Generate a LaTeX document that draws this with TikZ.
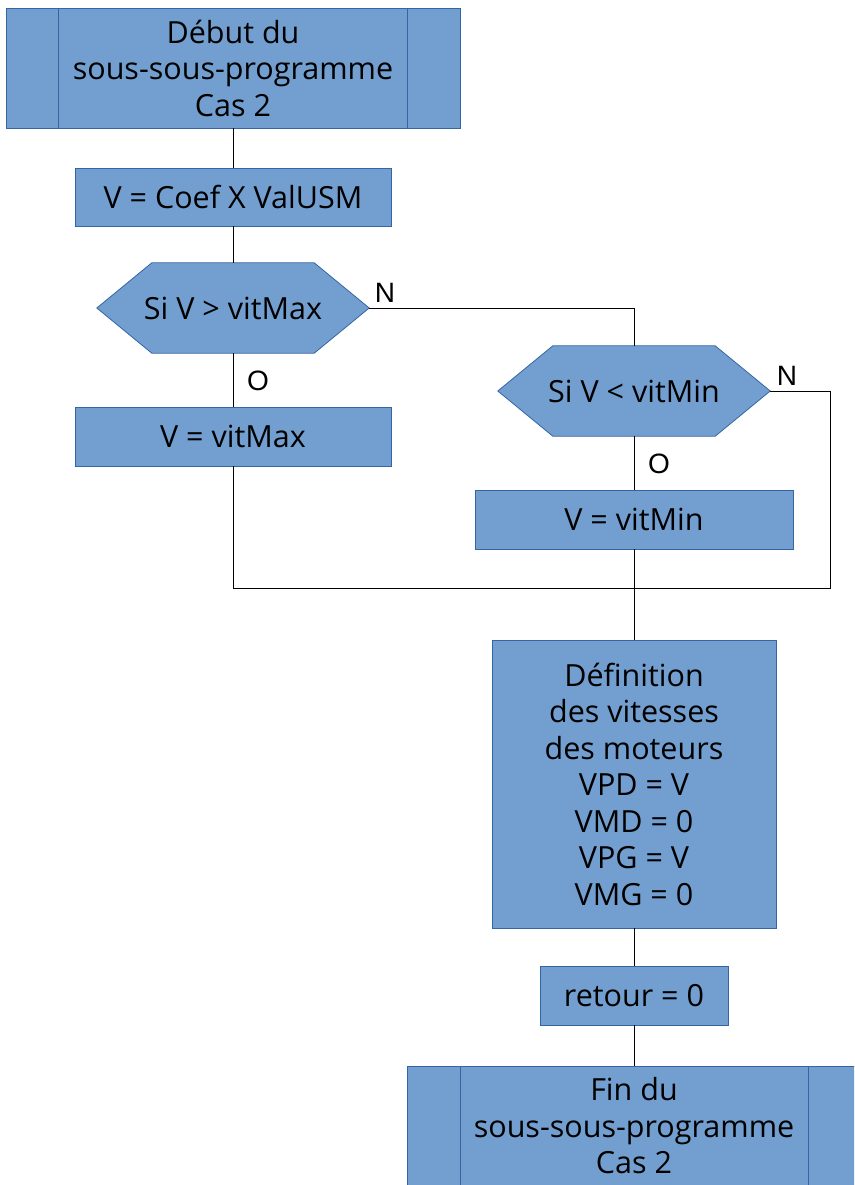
\documentclass[tikz,border=0pt]{standalone}
\usepackage{fontspec}
\setmainfont{Open Sans}
\newfontfamily\labelfont{Liberation Sans}
\usetikzlibrary{backgrounds}

\definecolor{boxfill}{HTML}{729FCF}
\definecolor{boxline}{HTML}{3465A4}

\tikzset{
  x=1pt, y=-1pt,
  txt/.style={font=\fontsize{30.5}{36.5}\selectfont, align=center, text=black},
  bloc/.style={txt, draw=boxline, fill=boxfill, line width=0.8pt, inner sep=0pt},
  prog/.style={bloc, minimum width=454pt, minimum height=120pt},
  test/.style={txt, inner sep=0pt, minimum width=272pt, minimum height=90pt},
  link/.style={draw=black, line width=0.9pt},
  rep/.style={font=\labelfont\fontsize{28}{28}\selectfont}
}

\begin{document}
\begin{tikzpicture}
  \clip (0,0) rectangle (854,1185);

  % Start of the sub-sub-program
  \node[prog] (debut) at (233,68) {Début du\\sous-sous-programme\\Cas 2};
  \draw[boxline, line width=0.8pt] ([xshift=53pt]debut.north west) -- ([xshift=53pt]debut.south west);
  \draw[boxline, line width=0.8pt] ([xshift=-53pt]debut.north east) -- ([xshift=-53pt]debut.south east);

  % Speed computation
  \node[bloc, minimum width=316pt, minimum height=58pt] (calc) at (233,197) {V = Coef X ValUSM};

  % First test: upper limit
  \node[test] (testmax) at (233,308) {Si V > vitMax};
  \node[bloc, minimum width=316pt, minimum height=59pt] (vitmax) at (233,436.5) {V = vitMax};

  % Second test: lower limit
  \node[test] (testmin) at (634,391) {Si V < vitMin};
  \node[bloc, minimum width=318pt, minimum height=59pt] (vitmin) at (634,519.5) {V = vitMin};

  % Motor speeds
  \node[bloc, minimum width=284pt, minimum height=288pt] (vitesses) at (634,784)
    {Définition\\des vitesses\\des moteurs\\VPD = V\\VMD = 0\\VPG = V\\VMG = 0};
  \node[bloc, minimum width=188pt, minimum height=59pt] (retour) at (634,995.5) {retour = 0};

  % End of the sub-sub-program
  \node[prog] (fin) at (634,1126) {Fin du\\sous-sous-programme\\Cas 2};
  \draw[boxline, line width=0.8pt] ([xshift=54pt]fin.north west) -- ([xshift=54pt]fin.south west);
  \draw[boxline, line width=0.8pt] ([xshift=-53pt]fin.north east) -- ([xshift=-53pt]fin.south east);

  % Hexagon outlines behind the test texts
  \begin{scope}[on background layer]
    \foreach \t in {testmax,testmin}
      \filldraw[fill=boxfill, draw=boxline, line width=0.8pt]
        (\t.west) -- ([xshift=55pt]\t.north west) -- ([xshift=-55pt]\t.north east)
        -- (\t.east) -- ([xshift=-55pt]\t.south east) -- ([xshift=55pt]\t.south west) -- cycle;
  \end{scope}

  % Join points
  \coordinate (jonction) at (634,588);
  \coordinate (boucle) at (830,588);

  % Connectors
  \draw[link] (debut.south) -- (calc.north);
  \draw[link] (calc.south) -- (testmax.north);
  \draw[link] (testmax.south) -- (vitmax.north);
  \draw[link] (testmax.east) -| (testmin.north);
  \draw[link] (testmin.south) -- (vitmin.north);
  \draw[link] (testmin.east) -| (boucle) -- (jonction);
  \draw[link] (vitmax.south) |- (jonction);
  \draw[link] (vitmin.south) -- (vitesses.north);
  \draw[link] (vitesses.south) -- (retour.north);
  \draw[link] (retour.south) -- (fin.north);

  % Answers
  \node[rep] (nmax) at (385,293) {N};
  \node[rep] (omax) at (258,381) {O};
  \node[rep] (nmin) at (787,376) {N};
  \node[rep] (omin) at (659,464) {O};
\end{tikzpicture}
\end{document}
